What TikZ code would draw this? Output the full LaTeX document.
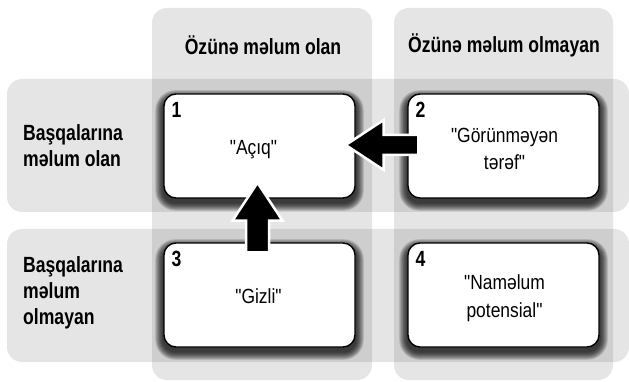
\documentclass[tikz,border=0pt]{standalone}
\usepackage{fontspec}
\setmainfont{Liberation Sans}
\newfontfamily\headf{Liberation Sans}[FakeStretch=0.80]
\newfontfamily\bodyf{Liberation Sans}[FakeStretch=0.85]
\usetikzlibrary{calc}
\pgfdeclarelayer{bands}
\pgfdeclarelayer{shadow}
\pgfsetlayers{bands,shadow,main}
\tikzset{
  band/.style={fill=black, fill opacity=0.1, rounded corners=15pt},
  cell/.style={draw=black, line width=1.4pt, fill=white, rounded corners=12pt,
    minimum width=191pt, minimum height=104pt, inner sep=0pt},
  num/.style={font=\headf\bfseries\fontsize{22}{24}\selectfont, inner sep=0pt, anchor=base west},
  celltext/.style={font=\bodyf\fontsize{20.5}{27.5}\selectfont, align=center, inner sep=0pt},
  head/.style={font=\headf\bfseries\fontsize{22}{26}\selectfont, inner sep=0pt},
  side/.style={font=\headf\bfseries\fontsize{22}{26}\selectfont, align=left, inner sep=0pt, anchor=west},
  blockarrow/.style={fill=black, draw=white, line width=2.5pt, line join=miter},
}
\begin{document}
\begin{tikzpicture}[x=1pt,y=1pt]
\useasboundingbox (0,0) rectangle (629,-382);

% bands
\begin{pgfonlayer}{bands}
  \fill[band] (152,-8) rectangle (372,-380);
  \fill[band] (394,-8) rectangle (613,-380);
  \fill[band] (7,-79) rectangle (629,-212);
  \fill[band] (7,-229) rectangle (629,-362);
\end{pgfonlayer}

% headers
\node[head] (h1) at (263,-45) {Özünə məlum olan};
\node[head] (h2) at (504,-45) {Özünə məlum olmayan};
\node[side] (s1) at (23,-146) {Başqalarına\\məlum olan};
\node[side] (s2) at (23,-293) {Başqalarına\\məlum\\olmayan};

% cells
\node[cell] (b1) at (259.5,-146) {};
\node[cell] (b2) at (503.5,-146) {};
\node[cell] (b3) at (259.5,-295) {};
\node[cell] (b4) at (503.5,-295) {};

\begin{pgfonlayer}{shadow}
  \foreach \n in {b1,b2,b3,b4}{
    \foreach \i in {1,...,9}{
      \pgfmathsetmacro{\d}{\i*0.9}
      \pgfmathsetmacro{\rr}{12+\d}
      \fill[black, opacity=0.13, rounded corners=\rr pt]
        ($(\n.south west)+(-\d,-\d-4)$) rectangle ($(\n.north east)+(\d,\d-5)$);
    }
  }
\end{pgfonlayer}

\node[num] (n1) at ($(b1.north west)+(8,-24)$) {1};
\node[num] (n2) at ($(b2.north west)+(8,-24)$) {2};
\node[num] (n3) at ($(b3.north west)+(8,-24)$) {3};
\node[num] (n4) at ($(b4.north west)+(8,-24)$) {4};

\node[celltext] (t1) at ($(b1)+(-6,-4)$) {"Açıq"};
\node[celltext] (t2) at ($(b2)+(1,-3)$) {"Görünməyən\\tərəf"};
\node[celltext] (t3) at ($(b3)+(-1,-1)$) {"Gizli"};
\node[celltext] (t4) at ($(b4)+(1,-3)$) {"Naməlum\\potensial"};

% arrows
\coordinate (hA) at ($(b1.east)+(-10,1)$);
\coordinate (hB) at ($(b2.west)+(11,1)$);
\draw[blockarrow] (hA) -- ++(38,25) -- ++(0,-15) -- ($(hB)+(0,10)$)
  -- ($(hB)+(0,-10)$) -- ($(hA)+(38,-10)$) -- ++(0,-15) -- cycle;

\coordinate (vA) at ($(b1.south)+(-2,16)$);
\coordinate (vB) at ($(b3.north)+(-2,-10)$);
\draw[blockarrow] (vA) -- ++(25,-38) -- ++(-13.5,0) -- ($(vB)+(11.5,0)$)
  -- ($(vB)+(-11.5,0)$) -- ($(vA)+(-11.5,-38)$) -- ++(-13.5,0) -- cycle;
\end{tikzpicture}
\end{document}
